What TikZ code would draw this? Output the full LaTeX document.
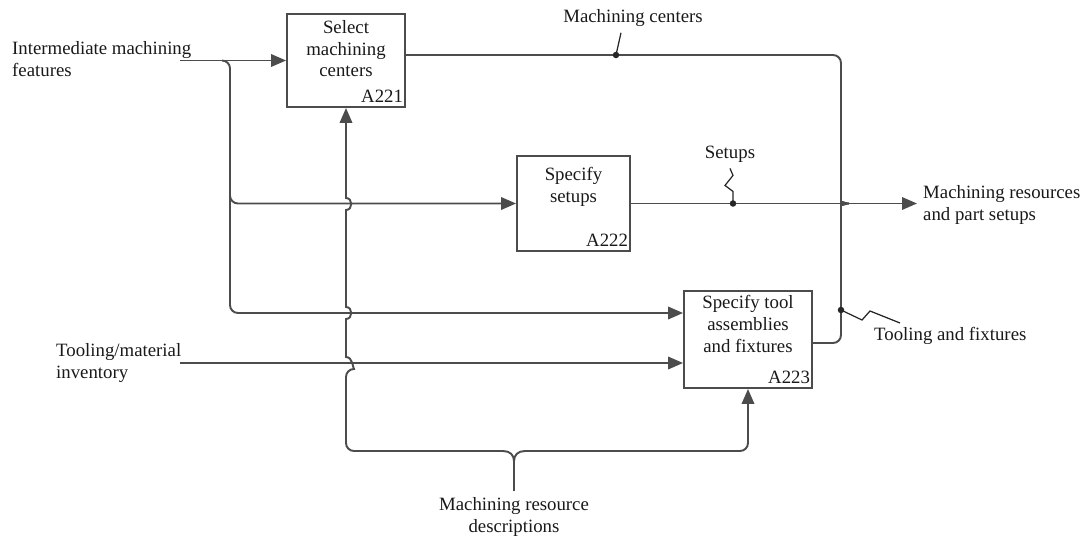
\documentclass[tikz,border=0pt]{standalone}
\usepackage{fontspec}
\setmainfont{Liberation Serif}
\usetikzlibrary{arrows.meta}

\begin{document}
\begin{tikzpicture}[x=0.02cm,y=-0.02cm,
  every node/.style={font=\fontsize{10.7}{12.3}\selectfont,text=black!90},
  ln/.style={draw=black!70,line width=1.1pt},
  arr/.style={ln,-{Triangle[length=0.3cm,width=0.25cm]}},
  lead/.style={draw=black!85,line width=0.7pt},
  actbox/.style={draw=black!70,line width=1.1pt,inner sep=0pt}]
\useasboundingbox (0,0) rectangle (1083,538);
% activity boxes
\foreach \nm/\x/\y/\w/\hh/\sh/\ttl in {a221/346/60.5/2.36/1.86/-4/{Select\\machining\\centers},
    a222/573.5/203.5/2.26/1.9/-7/{Specify\\setups},
    a223/748/339.5/2.56/1.94/-3/{Specify tool\\assemblies\\and fixtures}} {
  \node[actbox,minimum width=\w cm,minimum height=\hh cm] (\nm) at (\x,\y) {};
  \node[anchor=north,align=center,inner sep=0pt] (\nm-t) at ([yshift=\sh pt]\nm.north) {\ttl};
  \node[anchor=south east,inner xsep=1.5pt,inner ysep=3pt] (\nm-id) at (\nm.south east) {\MakeUppercase{\nm}};
}
% inputs
\node[anchor=west,align=left] (imf) at (6,59) {Intermediate machining\\features};
\coordinate (imfs) at (180,60.5);
\draw[arr] (imfs) -- (a221.west);
\draw[arr,rounded corners=0.16cm] (222,60.5) -| (230,313) -- (a223.west |- 0,313);
\draw[arr,rounded corners=0.16cm] (230,190) |- (a222.west);
\node[anchor=west,align=left] (tmi) at (50,363) {Tooling/material\\inventory};
\coordinate (tmis) at (180,363);
\draw[arr] (tmis) -- (a223.west |- 0,363);
% mechanism
\node[align=center] (mrd) at (514,517) {Machining resource\\descriptions};
\coordinate (mrdb) at (514,461);
\draw[ln] (mrd.north) -- (mrdb);
\draw[arr] (mrdb) .. controls (514,455) and (510,451) .. (503,451) [rounded corners=0.16cm] -| (346,369)
  [sharp corners] .. controls (353,369) and (353,357) .. (346,357) -- (346,319)
  .. controls (353,319) and (353,307) .. (346,307) -- (346,210)
  .. controls (353,210) and (353,198) .. (346,198) -- (a221.south);
\draw[arr] (mrdb) .. controls (514,455) and (518,451) .. (525,451) [rounded corners=0.16cm] -| (a223.south);
% outputs
\node[anchor=west,align=left] (mrps) at (917,205) {Machining resources\\and part setups};
\draw[arr] (a222.east) -- (a222.east -| mrps.west);
\draw[ln] (a221.east |- 0,55) [rounded corners=0.16cm] -| (841,195)
  [sharp corners] .. controls (841,200) and (844,203.5) .. (849,203.5);
\draw[ln] (a223.east |- 0,343) [rounded corners=0.16cm] -| (841,212)
  [sharp corners] .. controls (841,207) and (844,203.5) .. (849,203.5);
% labels
\node (mc) at (633,18) {Machining centers};
\coordinate (dmc) at (616,55);
\draw[lead] ([xshift=-0.24cm]mc.south) -- (dmc);
\node (st) at (730,154) {Setups};
\coordinate (dst) at (733,203.5);
\draw[lead] (st.south) -- ++(3,7) -- ++(-8,10) -- ++(8,6) -- (dst);
\node[anchor=west] (tf) at (868,336) {Tooling and fixtures};
\coordinate (dtf) at (841,310);
\draw[lead] (dtf) -- ++(21,10) -- ++(8,-9) -- ++(30,12);
\foreach \d in {dmc,dst,dtf}
  \fill[black!85] (\d) circle[radius=0.065cm];
\end{tikzpicture}
\end{document}
